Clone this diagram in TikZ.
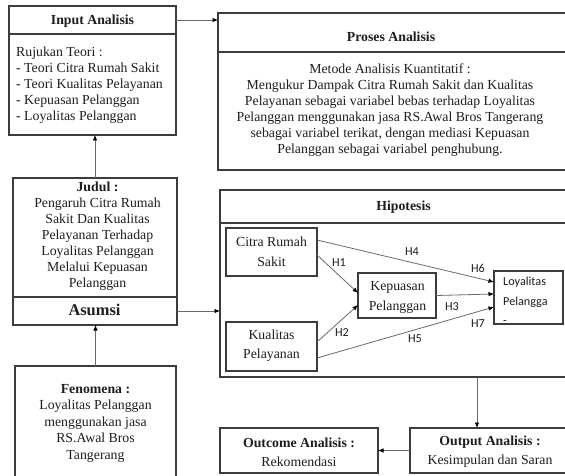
\documentclass[tikz,border=0pt]{standalone}
\usepackage{fontspec}
\setmainfont{Liberation Serif}
\newfontfamily\calibrifont{Carlito}
\usetikzlibrary{arrows.meta}
\definecolor{boxc}{HTML}{3C3C3C}
\definecolor{linec}{HTML}{6A6A6A}
\definecolor{txtc}{HTML}{1E1E1E}
\tikzset{
  box/.style={draw=boxc, line width=1.1bp, inner sep=0pt, outer sep=0pt},
  txt/.style={inner sep=0pt, align=center, text=txtc, font=\fontsize{13.8bp}{16bp}\selectfont},
  ttl/.style={txt, font=\fontsize{13.8bp}{16bp}\selectfont\bfseries},
  hl/.style={inner sep=0pt, text=txtc, font=\calibrifont\fontsize{12.2bp}{14bp}\selectfont},
  conn/.style={draw=linec, line width=0.8bp, -{Latex[length=5.5bp,width=4.5bp,color=black]}},
}
\begin{document}
\begin{tikzpicture}[x=1bp,y=-1bp]
\useasboundingbox (0,0) rectangle (565,476);
\clip (0,0) rectangle (565,476);
\fill[white] (0,0) rectangle (565,476);

% Input Analisis
\node[box, minimum width=167bp, minimum height=28bp] (inph) at (92.5,20) {};
\node[box, minimum width=167bp, minimum height=101bp] (inpb) at (92.5,84.5) {};
\node[ttl] (inpt) at (92.5,21) {Input Analisis};
\node[txt, align=left, anchor=west] (inpx) at (16,85) {Rujukan Teori :\\- Teori Citra Rumah Sakit\\- Teori Kualitas Pelayanan\\- Kepuasan Pelanggan\\- Loyalitas Pelanggan};

% Proses Analisis
\node[box, minimum width=372bp, minimum height=39bp] (proh) at (404,32.5) {};
\node[box, minimum width=372bp, minimum height=118bp] (prob) at (404,111) {};
\node[ttl] (prot) at (391,37) {Proses Analisis};
\node[txt] (prox) at (390,110.5) {Metode Analisis Kuantitatif :\\Mengukur Dampak Citra Rumah Sakit dan Kualitas\\Pelayanan sebagai variabel bebas terhadap Loyalitas\\Pelanggan menggunakan jasa RS.Awal Bros Tangerang\\sebagai variabel terikat, dengan mediasi Kepuasan\\Pelanggan sebagai variabel penghubung.};

% Judul / Asumsi
\node[box, minimum width=164bp, minimum height=119bp] (jud) at (95,237.5) {};
\node[box, minimum width=164bp, minimum height=28bp] (asu) at (95,311) {};
\node[txt] (judx) at (97.5,236.5) {\textbf{Judul :}\\Pengaruh Citra Rumah\\Sakit Dan Kualitas\\Pelayanan Terhadap\\Loyalitas Pelanggan\\Melalui Kepuasan\\Pelanggan};
\node[ttl, font=\fontsize{16.4bp}{18bp}\selectfont\bfseries] (asut) at (94.5,310) {Asumsi};

% Fenomena
\node[box, minimum width=161bp, minimum height=134bp] (fen) at (95.5,433) {};
\node[txt, font=\fontsize{13.8bp}{16.5bp}\selectfont] (fenx) at (95.5,423) {\textbf{Fenomena :}\\Loyalitas Pelanggan\\menggunakan jasa\\RS.Awal Bros\\Tangerang};

% Hipotesis
\node[box, minimum width=370bp, minimum height=33bp] (hiph) at (405,206.5) {};
\node[box, minimum width=370bp, minimum height=154bp] (hipb) at (405,300) {};
\node[ttl] (hipt) at (403.5,207) {Hipotesis};

\node[box, minimum width=91bp, minimum height=48bp] (cit) at (271.5,252) {};
\node[txt, font=\fontsize{13.8bp}{20bp}\selectfont] (citx) at (271.5,252) {Citra Rumah\\Sakit};
\node[box, minimum width=91bp, minimum height=49bp] (kua) at (271.5,346.5) {};
\node[txt, font=\fontsize{13.8bp}{19bp}\selectfont] (kuax) at (271.5,346) {Kualitas\\Pelayanan};
\node[box, minimum width=78bp, minimum height=45bp] (kep) at (397,295.5) {};
\node[txt, font=\fontsize{13.8bp}{20bp}\selectfont] (kepx) at (397.5,297) {Kepuasan\\Pelanggan};
\node[box, minimum width=69bp, minimum height=53bp] (loy) at (528.5,297.5) {};
\node[hl, align=left, anchor=north west, font=\calibrifont\fontsize{12.2bp}{19.5bp}\selectfont] (loyx) at (503,277) {Loyalitas\\Pelangga\\-};

% hypothesis arrows
\draw[conn] ([yshift=12bp]cit.east) -- ([yshift=15.5bp]loy.west);
\draw[conn] ([yshift=-3bp]cit.east) -- ([yshift=2.5bp]kep.west);
\draw[conn] ([yshift=4.5bp]kua.east) -- ([yshift=-9.5bp]kep.west);
\draw[conn] (kep.east) -- ([yshift=3.5bp]loy.west);
\draw[conn] ([yshift=-11.5bp]kua.east) -- ([yshift=-9.5bp]loy.west);

\node[hl] (h4) at (412,252) {H4};
\node[hl] (h1) at (339,263) {H1};
\node[hl] (h6) at (478,268) {H6};
\node[hl] (h3) at (452,307) {H3};
\node[hl] (h7) at (478,324) {H7};
\node[hl] (h2) at (342,333) {H2};
\node[hl] (h5) at (415,339) {H5};

% Output / Outcome
\node[box, minimum width=180bp, minimum height=45bp] (out) at (500,450.5) {};
\node[txt, font=\fontsize{13.8bp}{19bp}\selectfont] (outx) at (490,452) {\textbf{Output Analisis :}\\Kesimpulan dan Saran};
\node[box, minimum width=158bp, minimum height=45bp] (outc) at (299,450.5) {};
\node[txt, font=\fontsize{13.8bp}{19bp}\selectfont] (outcx) at (299,452) {\textbf{Outcome Analisis :}\\Rekomendasi};

% connectors
\coordinate (hx) at (477,377);
\draw[conn] (inph.east) -- (inph.east -| proh.west);
\draw[conn] (jud.north) -- (jud.north |- inpb.south);
\draw[conn] (fen.north) -- (fen.north |- asu.south);
\draw[conn] (asu.east) -- (asu.east -| hipb.west);
\draw[conn] (hx) -- (hx |- out.north);
\draw[conn] (out.west) -- (out.west -| outc.east);
\end{tikzpicture}
\end{document}
